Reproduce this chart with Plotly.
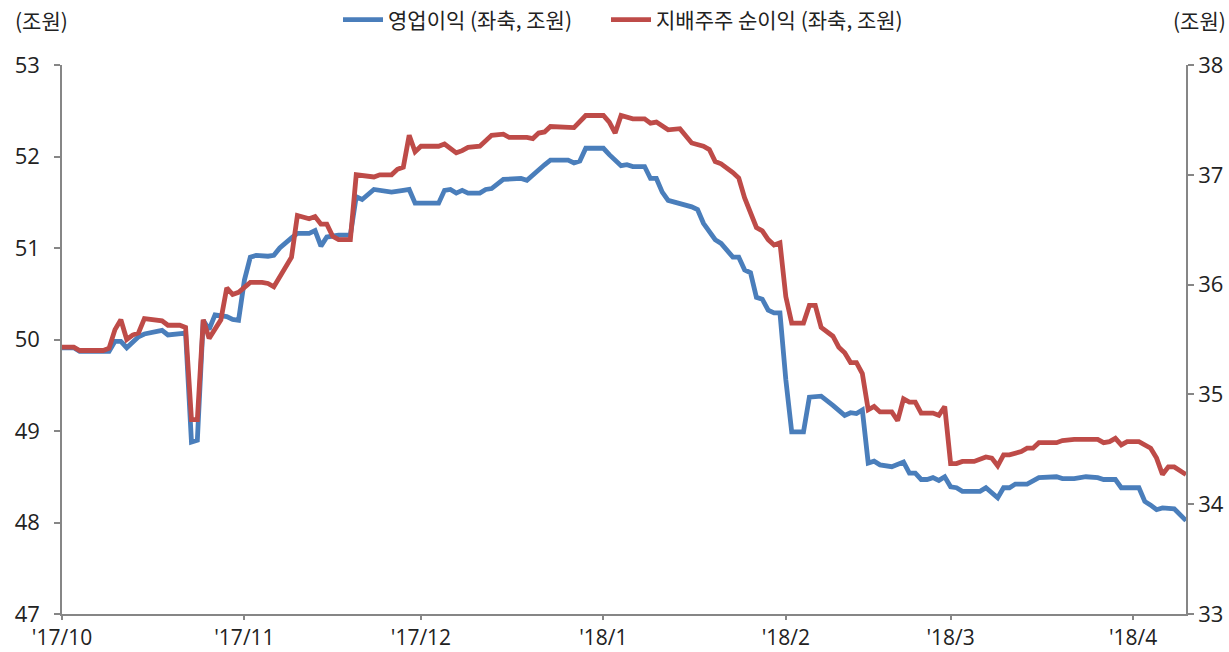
import plotly.graph_objects as go

op_dates = ["2017-10-01","2017-10-03","2017-10-04","2017-10-09","2017-10-10","2017-10-11","2017-10-12","2017-10-14","2017-10-15","2017-10-18","2017-10-19","2017-10-21","2017-10-22","2017-10-23","2017-10-24","2017-10-25","2017-10-26","2017-10-27","2017-10-29","2017-10-30","2017-10-31",
"2017-11-01","2017-11-02","2017-11-03","2017-11-05","2017-11-06","2017-11-07","2017-11-09","2017-11-10","2017-11-12","2017-11-13","2017-11-14","2017-11-15","2017-11-17","2017-11-19","2017-11-20","2017-11-21","2017-11-23","2017-11-24","2017-11-25","2017-11-26","2017-11-28","2017-11-29","2017-11-30",
"2017-12-04","2017-12-05","2017-12-06","2017-12-07","2017-12-08","2017-12-09","2017-12-11","2017-12-12","2017-12-13","2017-12-15","2017-12-18","2017-12-19","2017-12-20","2017-12-22","2017-12-23","2017-12-26","2017-12-27","2017-12-28","2017-12-29",
"2018-01-01","2018-01-02","2018-01-04","2018-01-05","2018-01-06","2018-01-08","2018-01-09","2018-01-10","2018-01-11","2018-01-12","2018-01-14","2018-01-16","2018-01-17","2018-01-18","2018-01-20","2018-01-21","2018-01-23","2018-01-24","2018-01-25","2018-01-26","2018-01-27","2018-01-28","2018-01-29","2018-01-30","2018-01-31",
"2018-02-01","2018-02-02","2018-02-04","2018-02-05","2018-02-07","2018-02-09","2018-02-11","2018-02-12","2018-02-13","2018-02-14","2018-02-15","2018-02-16","2018-02-17","2018-02-19","2018-02-21","2018-02-22","2018-02-23","2018-02-24","2018-02-25","2018-02-26","2018-02-27","2018-02-28",
"2018-03-01","2018-03-02","2018-03-03","2018-03-06","2018-03-07","2018-03-09","2018-03-10","2018-03-11","2018-03-12","2018-03-14","2018-03-16","2018-03-19","2018-03-20","2018-03-22","2018-03-24","2018-03-26","2018-03-27","2018-03-29","2018-03-30",
"2018-04-02","2018-04-03","2018-04-04","2018-04-05","2018-04-06","2018-04-08","2018-04-10"]
op_values = [49.91,49.91,49.87,49.87,49.98,49.98,49.91,50.03,50.06,50.10,50.05,50.07,50.07,48.88,48.90,50.21,50.11,50.27,50.25,50.22,50.21,
50.65,50.90,50.92,50.91,50.92,51.00,51.11,51.16,51.16,51.19,51.02,51.12,51.14,51.14,51.56,51.53,51.64,51.63,51.61,51.61,51.63,51.64,51.49,
51.49,51.63,51.64,51.60,51.63,51.60,51.60,51.64,51.65,51.75,51.76,51.74,51.80,51.91,51.96,51.96,51.93,51.95,52.09,
52.09,52.02,51.90,51.91,51.89,51.89,51.76,51.76,51.61,51.52,51.49,51.45,51.42,51.27,51.09,51.05,50.90,50.90,50.76,50.73,50.46,50.44,50.32,50.29,50.29,
49.56,48.99,48.99,49.37,49.38,49.28,49.17,49.20,49.19,49.23,48.65,48.67,48.63,48.61,48.66,48.54,48.54,48.47,48.47,48.49,48.46,48.50,
48.39,48.38,48.34,48.34,48.38,48.27,48.38,48.38,48.42,48.42,48.49,48.50,48.48,48.48,48.50,48.49,48.47,48.47,48.38,
48.38,48.23,48.19,48.14,48.16,48.15,48.02]

ni_dates = ["2017-10-01","2017-10-03","2017-10-04","2017-10-08","2017-10-09","2017-10-10","2017-10-11","2017-10-12","2017-10-13","2017-10-14","2017-10-15","2017-10-17","2017-10-18","2017-10-19","2017-10-21","2017-10-22","2017-10-23","2017-10-24","2017-10-25","2017-10-26","2017-10-27","2017-10-28","2017-10-29","2017-10-30","2017-10-31",
"2017-11-01","2017-11-02","2017-11-04","2017-11-05","2017-11-06","2017-11-07","2017-11-09","2017-11-10","2017-11-12","2017-11-13","2017-11-14","2017-11-15","2017-11-16","2017-11-17","2017-11-19","2017-11-20","2017-11-22","2017-11-23","2017-11-24","2017-11-26","2017-11-27","2017-11-28","2017-11-29","2017-11-30",
"2017-12-01","2017-12-04","2017-12-05","2017-12-07","2017-12-08","2017-12-09","2017-12-11","2017-12-13","2017-12-15","2017-12-16","2017-12-19","2017-12-20","2017-12-21","2017-12-22","2017-12-23","2017-12-27","2017-12-29",
"2018-01-01","2018-01-02","2018-01-03","2018-01-04","2018-01-06","2018-01-08","2018-01-09","2018-01-10","2018-01-12","2018-01-14","2018-01-16","2018-01-18","2018-01-19","2018-01-20","2018-01-21","2018-01-23","2018-01-24","2018-01-25","2018-01-27","2018-01-28","2018-01-29","2018-01-30","2018-01-31",
"2018-02-01","2018-02-02","2018-02-04","2018-02-05","2018-02-06","2018-02-07","2018-02-09","2018-02-10","2018-02-11","2018-02-12","2018-02-13","2018-02-14","2018-02-15","2018-02-16","2018-02-17","2018-02-19","2018-02-20","2018-02-21","2018-02-22","2018-02-23","2018-02-24","2018-02-26","2018-02-27","2018-02-28",
"2018-03-01","2018-03-02","2018-03-03","2018-03-05","2018-03-07","2018-03-08","2018-03-09","2018-03-10","2018-03-11","2018-03-13","2018-03-14","2018-03-15","2018-03-16","2018-03-19","2018-03-20","2018-03-22","2018-03-26","2018-03-27","2018-03-28","2018-03-29","2018-03-30","2018-03-31",
"2018-04-02","2018-04-04","2018-04-05","2018-04-06","2018-04-07","2018-04-08","2018-04-10"]
ni_values = [35.43,35.43,35.40,35.40,35.42,35.59,35.68,35.50,35.54,35.56,35.69,35.68,35.67,35.63,35.63,35.61,34.77,34.77,35.68,35.51,35.60,35.68,35.97,35.91,35.93,
35.98,36.02,36.02,36.01,35.98,36.07,36.25,36.63,36.60,36.62,36.55,36.55,36.44,36.41,36.41,37.00,36.99,36.98,37.00,37.00,37.05,37.07,37.36,37.21,
37.26,37.26,37.28,37.20,37.22,37.25,37.26,37.36,37.37,37.34,37.34,37.33,37.38,37.39,37.44,37.43,37.54,
37.54,37.48,37.38,37.54,37.51,37.51,37.47,37.48,37.41,37.42,37.29,37.26,37.23,37.12,37.10,37.02,36.97,36.79,36.52,36.49,36.41,36.36,36.38,
35.89,35.65,35.65,35.81,35.81,35.61,35.53,35.43,35.38,35.29,35.29,35.19,34.86,34.89,34.84,34.84,34.76,34.96,34.93,34.93,34.83,34.83,34.81,34.89,
34.37,34.37,34.39,34.39,34.43,34.42,34.35,34.45,34.45,34.48,34.51,34.51,34.56,34.56,34.58,34.59,34.59,34.56,34.57,34.60,34.54,34.57,
34.57,34.51,34.42,34.27,34.34,34.34,34.27]

month_ticks = ["2017-10-01","2017-11-01","2017-12-01","2018-01-01","2018-02-01","2018-03-01","2018-04-01"]
month_labels = ["'17/10","'17/11","'17/12","'18/1","'18/2","'18/3","'18/4"]

BLUE = "#4a7ebb"
RED = "#be4b48"
AX = "#868686"
FONT = "Open Sans, Noto Sans CJK KR, sans-serif"
KFONT = "Noto Sans CJK KR, sans-serif"

fig = go.Figure()
fig.add_trace(go.Scatter(x=op_dates, y=op_values, mode="lines", name="영업이익 (좌축, 조원)",
                         line=dict(color=BLUE, width=4.8), legend="legend"))
fig.add_trace(go.Scatter(x=ni_dates, y=ni_values, mode="lines", name="지배주주 순이익 (좌축, 조원)",
                         line=dict(color=RED, width=4.8), yaxis="y2", legend="legend2"))

leg_common = dict(orientation="h", xanchor="left", xref="container",
                  y=1 - 20 / 652, yanchor="middle", yref="container",
                  font=dict(size=21, family=KFONT), itemwidth=40,
                  bgcolor="rgba(0,0,0,0)")

fig.update_layout(
    width=1229, height=652,
    margin=dict(l=62, r=43, t=65, b=38, autoexpand=False),
    paper_bgcolor="white", plot_bgcolor="white",
    font=dict(family=FONT, size=22, color="#222222"),
    showlegend=True,
    legend=dict(x=338 / 1229, **leg_common),
    legend2=dict(x=606 / 1229, **leg_common),
    xaxis=dict(type="date", range=["2017-10-01", "2018-04-10"], tickvals=month_ticks, ticktext=month_labels,
               showgrid=False, zeroline=False, showline=True, linecolor=AX, linewidth=1.5,
               ticks="outside", ticklen=4, tickcolor=AX, tickwidth=1.5,
               tickfont=dict(size=21)),
    yaxis=dict(range=[47, 53], dtick=1, showgrid=False, zeroline=False, showline=True,
               linecolor=AX, linewidth=1.5, ticks="outside", ticklen=6, tickcolor=AX, tickwidth=1.5,
               tickfont=dict(size=22), ticklabelstandoff=10),
    yaxis2=dict(range=[33, 38], dtick=1, overlaying="y", side="right", showgrid=False, zeroline=False,
                showline=True, linecolor=AX, linewidth=1.5, ticks="outside", ticklen=6, tickcolor=AX,
                tickwidth=1.5, tickfont=dict(size=22)),
    annotations=[
        dict(text="(조원)", xref="paper", yref="paper", x=-0.044, y=1 + 45 / 549, xanchor="left", yanchor="middle",
             showarrow=False, font=dict(size=21, family=KFONT)),
        dict(text="(조원)", xref="paper", yref="paper", x=1.0375, y=1 + 45 / 549, xanchor="right", yanchor="middle",
             showarrow=False, font=dict(size=21, family=KFONT)),
    ],
)

fig.write_html("out.html", config={"displayModeBar": False},
               post_script="document.body.style.margin='0';")
